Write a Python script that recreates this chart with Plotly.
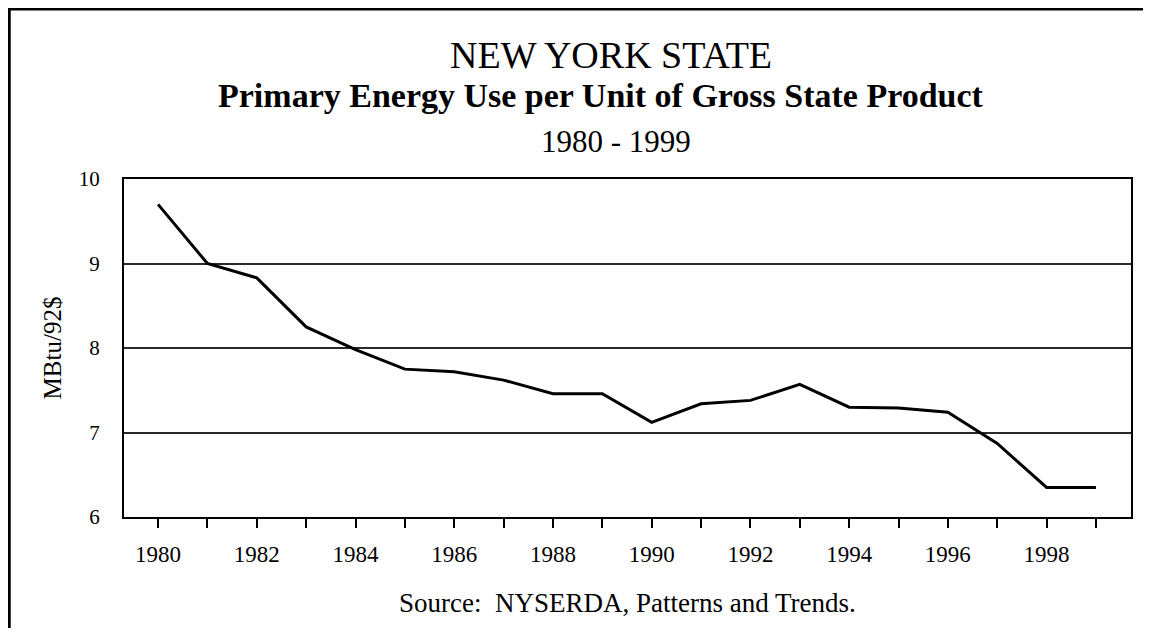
import plotly.graph_objects as go

# ---- data ----
years = [1980, 1981, 1982, 1983, 1984, 1985, 1986, 1987, 1988, 1989,
         1990, 1991, 1992, 1993, 1994, 1995, 1996, 1997, 1998, 1999]
mbtu_per_92usd = [9.70, 9.00, 8.83, 8.25, 7.98, 7.75, 7.72, 7.62, 7.46, 7.46,
                  7.12, 7.34, 7.38, 7.57, 7.30, 7.29, 7.24, 6.87, 6.35, 6.35]
x_tick_labels = [str(y) if y % 2 == 0 else "" for y in years]
y_tick_values = [6, 7, 8, 9, 10]

title_line1 = "NEW YORK STATE"
title_line2 = "<b>Primary Energy Use per Unit of Gross State Product</b>"
title_line3 = "1980 - 1999"
source_text = "Source:&nbsp;&nbsp;NYSERDA, Patterns and Trends."
y_title = "MBtu/92$"

# ---- layout geometry ----
# The HTML page body has an 8px margin, so the figure is drawn 8px
# in from the top-left corner of the window.
OFF = 8
W, H = 1135, 620
L, T = 124 - OFF, 179 - OFF            # plot area left/top in figure px
PW, PH = 1009, 338                     # plot area size
R = W - L - PW
B = H - T - PH

def px(page_x):
    return (page_x - OFF - L) / PW

def py(page_y):
    return (T + PH - (page_y - OFF)) / PH

FONT = "Liberation Serif, Times New Roman, serif"

fig = go.Figure()
fig.add_trace(go.Scatter(
    x=years, y=mbtu_per_92usd, mode="lines",
    line=dict(color="black", width=3),
    hoverinfo="x+y", showlegend=False,
))

fig.update_layout(
    width=W, height=H,
    margin=dict(l=L, r=R, t=T, b=B, pad=0),
    paper_bgcolor="white", plot_bgcolor="white",
    font=dict(family=FONT, color="black"),
    showlegend=False,
)

fig.update_xaxes(
    range=[1979.31, 1999.71],
    tickmode="array", tickvals=years, ticktext=x_tick_labels,
    ticks="outside", ticklen=9, tickwidth=1.5, tickcolor="black",
    ticklabelstandoff=6,
    tickfont=dict(family=FONT, size=23, color="black"),
    showgrid=False, zeroline=False,
    showline=True, linecolor="black", linewidth=2, mirror=True,
)
fig.update_yaxes(
    range=[6, 10],
    tickmode="array", tickvals=y_tick_values,
    ticks="outside", ticklen=18, tickcolor="rgba(0,0,0,0)",
    tickfont=dict(family=FONT, size=21, color="black"),
    showgrid=True, gridcolor="#2a2a2a", gridwidth=1.6,
    zeroline=False,
    showline=True, linecolor="black", linewidth=2, mirror=True,
    title=dict(text=y_title, font=dict(family=FONT, size=25, color="black"),
               standoff=10),
)

ann = [
    (title_line1, 612, 55, 38),
    (title_line2, 602, 95, 34),
    (title_line3, 617, 141, 31),
    (source_text, 628, 603, 27),
]
for text, xc, yc, size in ann:
    fig.add_annotation(
        text=text, xref="paper", yref="paper",
        x=px(xc), y=py(yc), xanchor="center", yanchor="middle",
        showarrow=False, font=dict(family=FONT, size=size, color="black"),
    )

# outer frame (cut off at right/bottom in the reference)
fig.add_shape(
    type="rect", xref="paper", yref="paper",
    x0=px(OFF + 1), y0=py(800), x1=px(1400), y1=py(OFF + 1),
    line=dict(color="black", width=3), fillcolor="rgba(0,0,0,0)",
    layer="above",
)

fig.write_html("out.html")
